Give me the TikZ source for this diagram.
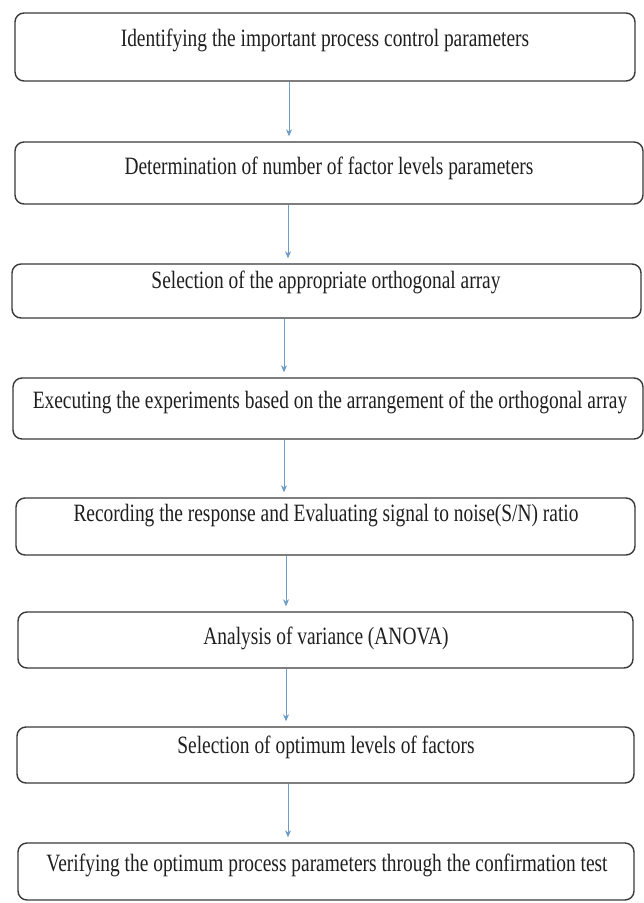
\documentclass[tikz,border=0pt]{standalone}
\usepackage{fontspec}
\setmainfont{Liberation Serif}[FakeStretch=0.78]
\usetikzlibrary{arrows.meta}
\definecolor{boxline}{HTML}{3A3A3A}
\definecolor{arrowblue}{HTML}{6E9CC4}
\begin{document}
\begin{tikzpicture}[x=1bp,y=-1bp,
  stepbox/.style={draw=boxline,line width=1.4bp,rounded corners=9bp,fill=white,inner sep=0pt},
  steptext/.style={inner sep=0pt,text=black!88,font=\fontsize{25}{30}\selectfont},
  flow/.style={draw=arrowblue,line width=0.9bp,-{Stealth[length=7bp,width=6bp]}}]
\useasboundingbox[fill=white] (0,0) rectangle (644,903);
% boxes
\node[stepbox,minimum width=620bp,minimum height=68bp] (b1) at (325,47) {};
\node[stepbox,minimum width=628bp,minimum height=62bp] (b2) at (329,173) {};
\node[stepbox,minimum width=629bp,minimum height=54bp] (b3) at (326.5,291) {};
\node[stepbox,minimum width=630bp,minimum height=61bp] (b4) at (328,408.5) {};
\node[stepbox,minimum width=619bp,minimum height=57bp] (b5) at (325.5,526.5) {};
\node[stepbox,minimum width=615bp,minimum height=56bp] (b6) at (325.5,640) {};
\node[stepbox,minimum width=617bp,minimum height=56bp] (b7) at (325.5,755) {};
\node[stepbox,minimum width=616bp,minimum height=57bp] (b8) at (326,871.5) {};
% texts
\node[steptext] (t1) at (325,40) {Identifying the important process control parameters};
\node[steptext] (t2) at (329,168) {Determination of number of factor levels parameters};
\node[steptext] (t3) at (326,282) {Selection of the appropriate orthogonal array};
\node[steptext] (t4) at (330,402) {Executing the experiments based on the arrangement of the orthogonal array};
\node[steptext] (t5) at (326,516) {Recording the response and Evaluating signal to noise(S/N) ratio};
\node[steptext] (t6) at (326,638) {Analysis of variance (ANOVA)};
\node[steptext] (t7) at (326,747) {Selection of optimum levels of factors};
\node[steptext] (t8) at (327,865) {Verifying the optimum process parameters through the confirmation test};
% arrows
\draw[flow] (b1.south -| 289,0) -- ([yshift=5bp]b2.north -| 289,0);
\draw[flow] (b2.south -| 288,0) -- ([yshift=5bp]b3.north -| 288,0);
\draw[flow] (b3.south -| 284,0) -- ([yshift=5bp]b4.north -| 284,0);
\draw[flow] (b4.south -| 284,0) -- ([yshift=5bp]b5.north -| 284,0);
\draw[flow] (b5.south -| 286,0) -- ([yshift=5bp]b6.north -| 286,0);
\draw[flow] (b6.south -| 286,0) -- ([yshift=5bp]b7.north -| 286,0);
\draw[flow] (b7.south -| 288,0) -- ([yshift=5bp]b8.north -| 288,0);
\end{tikzpicture}
\end{document}
